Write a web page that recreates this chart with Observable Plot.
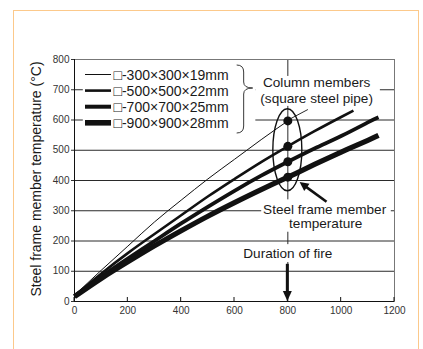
<!DOCTYPE html>
<html><head><meta charset="utf-8">
<script src="https://cdn.jsdelivr.net/npm/d3@7"></script>
<script src="https://cdn.jsdelivr.net/npm/@observablehq/plot@0.6"></script>
<style>
html,body{margin:0;padding:0;background:#fff;}
#wrap{position:relative;width:423px;height:349px;overflow:hidden;background:#fff;}
#border{position:absolute;left:12.5px;top:10px;width:406px;height:400px;border:1.6px solid #fcc98b;box-sizing:border-box;}
#chart{position:absolute;left:0;top:0;}
</style></head><body>
<div id="wrap"><div id="border"></div><div id="chart"></div></div>
<script>
// ---- data ----
const seriesNames = ["□-300×300×19mm", "□-500×500×22mm", "□-700×700×25mm", "□-900×900×28mm"];
const time300 = [0, 100, 200, 300, 400, 500, 600, 700, 800];
const temp300 = [20, 103, 183, 263, 335, 405, 470, 535, 597];
const time500 = [0, 100, 200, 300, 400, 500, 600, 700, 800, 900, 1000, 1046];
const temp500 = [19, 92, 160, 223, 285, 347, 405, 461, 513, 563, 610, 631];
const time700 = [0, 100, 200, 300, 400, 500, 600, 700, 800, 900, 1000, 1100, 1140];
const temp700 = [17, 82, 142, 200, 258, 313, 366, 416, 462, 506, 547, 592, 609];
const time900 = [0, 100, 200, 300, 400, 500, 600, 700, 800, 900, 1000, 1100, 1140];
const temp900 = [16, 76, 131, 184, 234, 282, 327, 370, 411, 453, 494, 533, 549];
const fireDuration = 800;
const xTicks = [0, 200, 400, 600, 800, 1000, 1200];
const yTicks = [0, 100, 200, 300, 400, 500, 600, 700, 800];
const gridY = [100, 200, 300, 400, 500, 600, 700];
const yLabel = "Steel frame member temperature (°C)";

// ---- build tables ----
const times = [time300, time500, time700, time900];
const temps = [temp300, temp500, temp700, temp900];
const widths = [1, 2.6, 3.8, 5.2];
const legendWidths = [1, 2.6, 4, 5.6];
const rows = seriesNames.map((s, i) => times[i].map((t, j) => ({series: s, time: t, temp: temps[i][j]})));
const dots = rows.map(r => r.find(d => d.time === fireDuration));

// annotation layout (data coordinates)
const boxes = [
  {x1: 33, x2: 680, y1: 562, y2: 785},     // legend
  {x1: 680, x2: 1147, y1: 645, y2: 744},   // column members label
  {x1: 702, x2: 1188, y1: 229, y2: 336},   // steel frame member label
  {x1: 627, x2: 971, y1: 129, y2: 188}     // duration label
];
const labels = [
  {x: 908, y: 722, text: "Column members", size: 14},
  {x: 908, y: 672, text: "(square steel pipe)", size: 14},
  {x: 938, y: 305, text: "Steel frame member", size: 14},
  {x: 942, y: 256, text: "temperature", size: 14},
  {x: 800, y: 159, text: "Duration of fire", size: 14}
];

const font = "'Liberation Sans', Arial, Helvetica, sans-serif";

const plot = Plot.plot({
  width: 423, height: 349,
  marginLeft: 74, marginRight: 29, marginTop: 59, marginBottom: 48,
  x: {domain: [0, 1200]},
  y: {domain: [0, 800]},
  style: {fontFamily: font, background: "transparent", color: "#333", fontSize: "10px"},
  marks: [
    Plot.ruleY(gridY, {stroke: "#2a2a2a", strokeWidth: 1}),
    Plot.ruleX([fireDuration], {stroke: "#2a2a2a", strokeWidth: 1}),
    Plot.rect(boxes, {x1: "x1", x2: "x2", y1: "y1", y2: "y2", fill: "white"}),
    ...rows.map((r, i) => Plot.line(r, {x: "time", y: "temp", stroke: "#111", strokeWidth: widths[i], curve: "natural", strokeLinecap: "butt"})),
    Plot.dot(dots, {x: "time", y: "temp", r: 4.5, fill: "#111", stroke: "none"}),
    Plot.text(labels, {x: "x", y: "y", text: "text", fontSize: 13.6, lineHeight: 1, fill: "#1a1a1a"}),
    Plot.frame({stroke: "#777"}),
    Plot.ruleX([0], {stroke: "#111"}),
    Plot.ruleY([0], {stroke: "#111"}),
    Plot.axisY({ticks: yTicks, tickSize: 3, tickPadding: 2, label: null, fontSize: 10, tickFormat: d3.format("d")}),
    Plot.axisX({ticks: xTicks, tickSize: 0, tickPadding: 5, label: null, fontSize: 10, tickFormat: d3.format("d")})
  ]
});
document.getElementById("chart").appendChild(plot);

// ---- annotations via scales ----
const sx = plot.scale("x"), sy = plot.scale("y");
const X = v => sx.apply(v), Y = v => sy.apply(v);
const svg = d3.select(plot);
const g = svg.append("g").attr("font-family", font).attr("text-anchor", "start");

// inner x ticks
xTicks.forEach(t => g.append("line").attr("x1", X(t)).attr("x2", X(t)).attr("y1", Y(0)).attr("y2", Y(0) - 4).attr("stroke", "#111"));

// y label
g.append("text").attr("transform", `translate(41,${(Y(0) + Y(800)) / 2 - 1}) rotate(-90)`)
  .attr("text-anchor", "middle").attr("font-size", 14).attr("fill", "#1a1a1a").text(yLabel);

// leader line from dot to label
g.append("line").attr("x1", X(fireDuration)).attr("y1", Y(dots[0].temp)).attr("x2", X(877)).attr("y2", Y(633))
  .attr("stroke", "#111").attr("stroke-width", 0.9);

// ellipse
g.append("ellipse").attr("cx", X(fireDuration)).attr("cy", Y(500)).attr("rx", 14.5).attr("ry", 41)
  .attr("fill", "none").attr("stroke", "#111").attr("stroke-width", 1.4);

// arrows
function arrow(x1, y1, x2, y2, w, hl, hw) {
  const dx = x2 - x1, dy = y2 - y1, L = Math.hypot(dx, dy), ux = dx / L, uy = dy / L;
  const bx = x2 - ux * hl, by = y2 - uy * hl;
  g.append("line").attr("x1", x1).attr("y1", y1).attr("x2", bx + ux).attr("y2", by + uy).attr("stroke", "#111").attr("stroke-width", w);
  g.append("path").attr("d", `M${x2},${y2}L${bx - uy * hw / 2},${by + ux * hw / 2}L${bx + uy * hw / 2},${by - ux * hw / 2}Z`).attr("fill", "#111");
}
arrow(X(947), Y(328), X(846), Y(393), 2.6, 9, 9);
arrow(X(fireDuration), Y(123), X(fireDuration), Y(0), 3, 10, 9);

// legend
const lx0 = X(0) + 11, lx1 = X(0) + 37, ly0 = 74.5, lstep = 16.1;
seriesNames.forEach((s, i) => {
  const yy = ly0 + i * lstep;
  g.append("line").attr("x1", lx0).attr("x2", lx1).attr("y1", yy).attr("y2", yy).attr("stroke", "#111").attr("stroke-width", legendWidths[i]);
  g.append("text").attr("x", lx1 + 2.5).attr("y", yy + 5).attr("font-size", 14).attr("fill", "#1a1a1a").attr("text-anchor", "start").text(s);
});

// brace
const bx = X(610), by0 = 65, by1 = 133, tipY = 88, tipX = X(670);
const mx = bx + 7;
g.append("path").attr("d",
  `M${bx},${by0} Q${mx},${by0} ${mx},${by0 + 7} L${mx},${tipY - 6} Q${mx},${tipY} ${tipX},${tipY} Q${mx},${tipY} ${mx},${tipY + 6} L${mx},${by1 - 7} Q${mx},${by1} ${bx},${by1}`)
  .attr("fill", "none").attr("stroke", "#222").attr("stroke-width", 0.9);
</script>
</body></html>
